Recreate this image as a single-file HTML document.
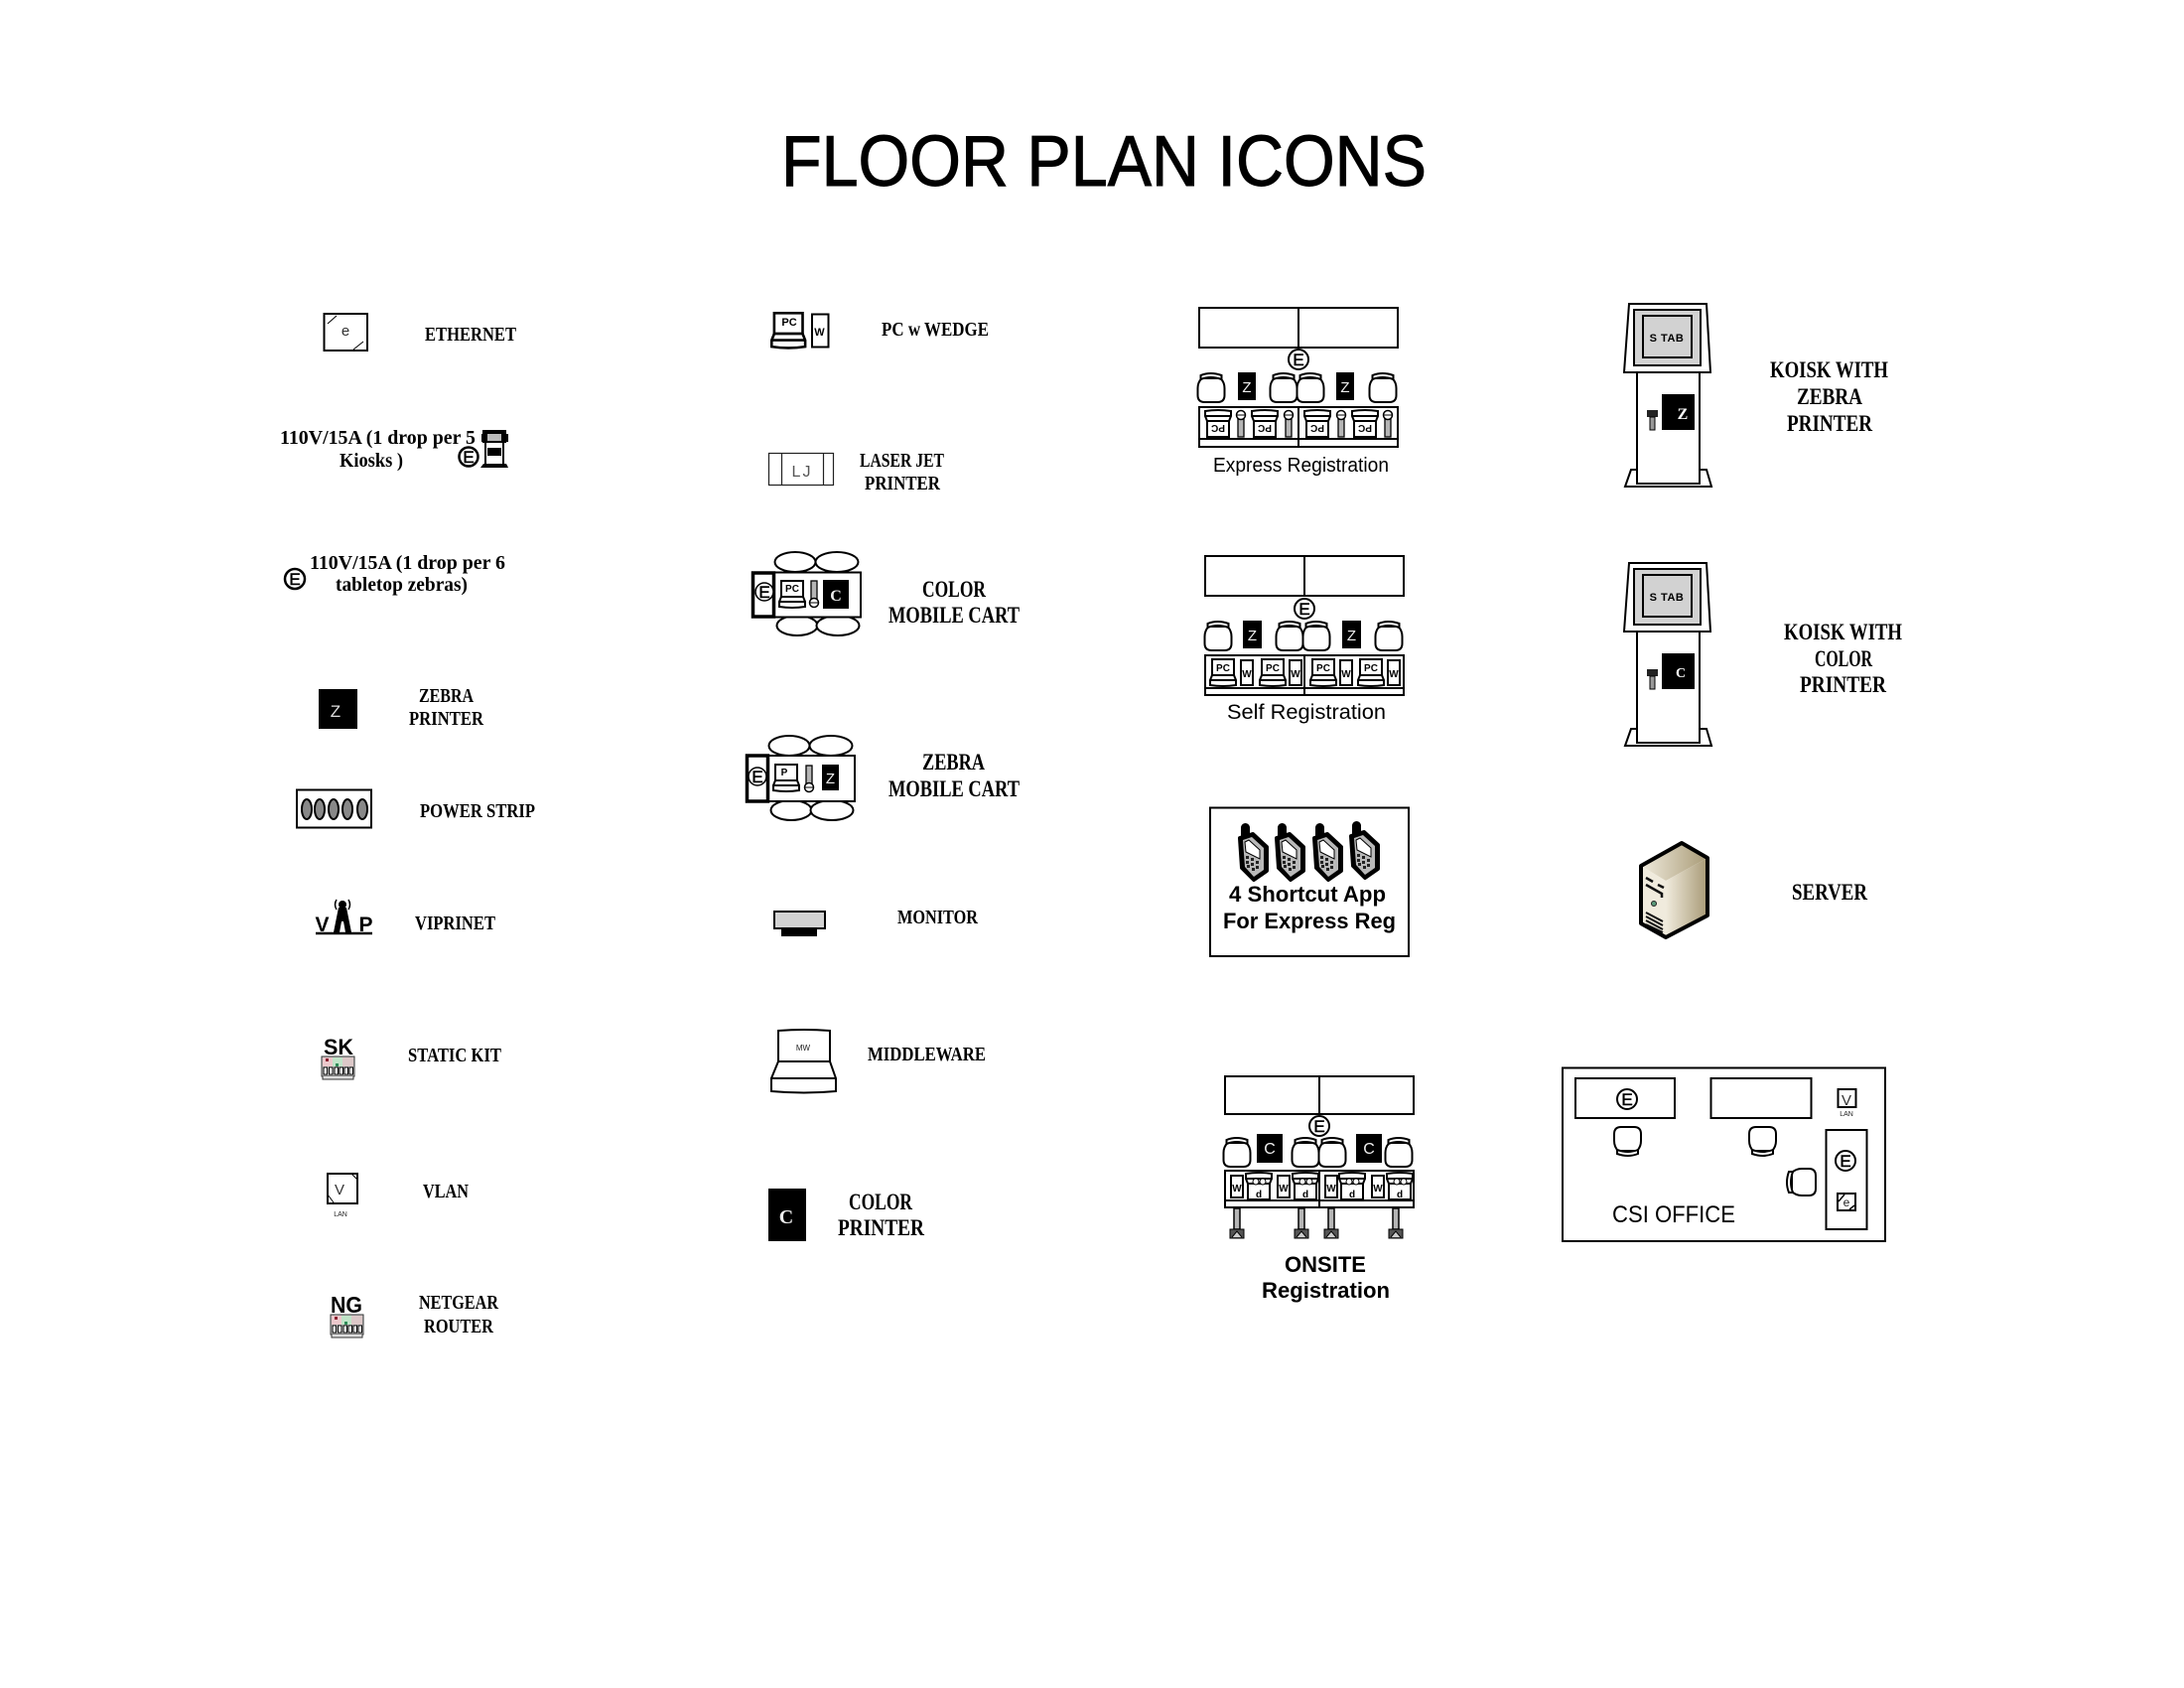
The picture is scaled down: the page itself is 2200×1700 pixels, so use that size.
<!DOCTYPE html>
<html lang="en">
<head>
<meta charset="utf-8">
<title>Floor Plan Icons</title>
<style>
html,body{margin:0;padding:0;background:#fff}
svg{display:block}
.l{font-family:"Liberation Serif",serif;font-weight:bold;font-size:20px;fill:#000}
.x{font-size:23px}
.s{font-family:"Liberation Sans",sans-serif;fill:#000}
.b{font-family:"Liberation Sans",sans-serif;font-weight:bold;fill:#000}
.e{font-family:"Liberation Sans",sans-serif;font-size:17px;text-anchor:middle;fill:#000;stroke:#000;stroke-width:.5px}
.m{font-family:"Liberation Sans",sans-serif;text-anchor:middle}
.c{fill:#fff;stroke:#000;stroke-width:2}
.n{fill:none;stroke:#000;stroke-width:2}
.w{fill:#fff;stroke:#000;stroke-width:2}
</style>
</head>
<body>
<svg xmlns="http://www.w3.org/2000/svg" width="2200" height="1700" viewBox="0 0 2200 1700">
<defs>
<g id="chair">
<path d="M4 6Q0 10 0 16L0 23Q0 30 7 30L20 30Q27 30 27 23L27 16Q27 10 23 6Z" fill="#fff" stroke="#000" stroke-width="2"/>
<path d="M3 7L3 3Q13 -1 24 3L24 7Q13 3 3 7Z" fill="#fff" stroke="#000" stroke-width="2"/>
</g>
<g id="pc">
<rect x="3" y="1" width="22" height="16" fill="#fff" stroke="#000" stroke-width="2"/>
<path d="M3 17L25 17L27 22L27 27Q14 29 1 27L1 22Z" fill="#fff" stroke="#000" stroke-width="2"/>
<path d="M1 22L27 22" stroke="#000" stroke-width="2"/>
</g>
<g id="rod">
<rect x="2" y="9" width="6" height="18" fill="#b5b5b5" stroke="#000" stroke-width="1.300"/>
<circle cx="5" cy="5" r="4.500" fill="#fff" stroke="#000" stroke-width="1.500"/>
<path d="M.5 5H9.500" stroke="#000" stroke-width="1"/>
</g>
<g id="router">
<rect x="1" y="0" width="33" height="20" fill="#c8c8c8" stroke="#333" stroke-width="1"/>
<rect x="2" y="1" width="10" height="9" fill="#ecc8cc"/>
<rect x="12" y="1" width="10" height="9" fill="#c0e4c8"/>
<rect x="22" y="1" width="11" height="9" fill="#dcc8c8"/>
<rect x="5" y="2" width="3" height="3" fill="#8b2030"/>
<rect x="15" y="7" width="3" height="3" fill="#2e8b57"/>
<g fill="#fff" stroke="#000" stroke-width="1">
<rect x="3" y="11" width="3.500" height="7"/><rect x="8.500" y="11" width="3.500" height="7"/><rect x="14" y="11" width="3.500" height="7"/><rect x="19" y="11" width="3.500" height="7"/><rect x="24" y="11" width="3.500" height="7"/><rect x="29" y="11" width="3.500" height="7"/>
</g>
<path d="M2 20L2 23L33 23L33 20" fill="#ddd" stroke="#333" stroke-width="1"/>
</g>
<g id="phone">
<rect x="3" y="0" width="9" height="18" rx="4.500" fill="#000"/>
<path d="M2 15L15 11L29 24L29 48L16 57L4 45Z" fill="#000" stroke="#000" stroke-width="4" stroke-linejoin="round"/>
<path d="M5 17L14 14L26 25L26 47L16 54L7 44Z" fill="#b9b9b9"/>
<path d="M7 19L11 17L22 27L22 36L8 29Z" fill="#fff" stroke="#000" stroke-width="1"/>
<g fill="#222"><rect x="8" y="33" width="3" height="3"/><rect x="13" y="35" width="3" height="3"/><rect x="18" y="38" width="3" height="3"/><rect x="8" y="38" width="3" height="3"/><rect x="13" y="40" width="3" height="3"/><rect x="18" y="43" width="3" height="3"/><rect x="9" y="42" width="3" height="3"/><rect x="14" y="45" width="3" height="3"/></g>
</g>
<g id="leg">
<rect x="-3" y="0" width="6" height="21" fill="#b5b5b5" stroke="#000" stroke-width="1.500"/>
<rect x="-7" y="21" width="14" height="9" fill="#555" stroke="#000" stroke-width="1"/>
<path d="M-5 29L0 23L5 29" fill="#ccc" stroke="#000" stroke-width="1"/>
</g>
<linearGradient id="srv" x1="0" x2="1" y1="0" y2="0"><stop offset="0" stop-color="#f0ebdd"/><stop offset="1" stop-color="#a89a76"/></linearGradient>
</defs>

<text x="787" y="187" class="s" font-size="72" textLength="650" lengthAdjust="spacingAndGlyphs" style="stroke:#000;stroke-width:1px">FLOOR PLAN ICONS</text>

<!-- Column 1 -->
<rect x="326.500" y="316" width="43.500" height="37" fill="#fff" stroke="#000" stroke-width="2"/>
<path d="M330 326L339 318M356 352L366 344" stroke="#000" stroke-width="1"/>
<text x="348" y="338" class="m" font-size="15" fill="#333">e</text>
<text x="428" y="343" class="l" textLength="92" lengthAdjust="spacingAndGlyphs">ETHERNET</text>

<text x="282" y="447" class="l" textLength="197" lengthAdjust="spacingAndGlyphs">110V/15A (1 drop per 5</text>
<text x="342" y="470" class="l" textLength="64" lengthAdjust="spacingAndGlyphs">Kiosks )</text>
<path d="M486 433H510V446H486Z" fill="#000"/><rect x="491" y="437" width="14" height="7" fill="#bbb"/>
<rect x="485" y="437" width="2" height="8" fill="#000"/><rect x="510" y="437" width="2" height="8" fill="#000"/>
<path d="M489 446V469M507 446V469" stroke="#000" stroke-width="2"/>
<rect x="491" y="451" width="14" height="8" fill="#000"/>
<path d="M484 471L487 467H510L512 471Z" fill="#000"/>
<circle cx="472" cy="460" r="9.500" class="c" style="stroke-width:2.500"/><text x="472" y="466" class="e">E</text>

<circle cx="297" cy="583" r="10" class="c" style="stroke-width:2.500"/><text x="297" y="589" class="e">E</text>
<text x="312" y="573" class="l" textLength="197" lengthAdjust="spacingAndGlyphs">110V/15A (1 drop per 6</text>
<text x="338" y="595" class="l" textLength="133" lengthAdjust="spacingAndGlyphs">tabletop zebras)</text>

<rect x="321" y="694" width="39" height="40" fill="#000"/>
<text x="338" y="722" class="m" font-size="17" fill="#ddd">Z</text>
<text x="422" y="707" class="l" textLength="55" lengthAdjust="spacingAndGlyphs">ZEBRA</text>
<text x="412" y="730" class="l" textLength="75" lengthAdjust="spacingAndGlyphs">PRINTER</text>

<rect x="299" y="795.500" width="75" height="38" fill="#fff" stroke="#000" stroke-width="2"/>
<g fill="#888" stroke="#000" stroke-width="2"><ellipse cx="309" cy="815" rx="5" ry="10"/><ellipse cx="322" cy="815" rx="5" ry="10"/><ellipse cx="336" cy="815" rx="5" ry="10"/><ellipse cx="350" cy="815" rx="5" ry="10"/><ellipse cx="365" cy="815" rx="5" ry="10"/></g>
<text x="423" y="823" class="l" textLength="116" lengthAdjust="spacingAndGlyphs">POWER STRIP</text>

<path d="M318 940H375" stroke="#000" stroke-width="2.500"/>
<text x="324.500" y="938" class="b m" font-size="21">V</text>
<text x="368.500" y="938" class="b m" font-size="21">P</text>
<path d="M336 939L341 914H349L354 939H348L346 928H344L342 939Z" fill="#000"/>
<circle cx="345" cy="911" r="4" fill="#000"/>
<path d="M339 906Q336 911 339 916M351 906Q354 911 351 916" fill="none" stroke="#000" stroke-width="1.500"/>
<text x="418" y="936" class="l" textLength="81" lengthAdjust="spacingAndGlyphs">VIPRINET</text>

<text x="326" y="1062" class="b" font-size="22" textLength="30" lengthAdjust="spacingAndGlyphs">SK</text>
<use href="#router" x="323" y="1064"/>
<text x="411" y="1069" class="l" textLength="94" lengthAdjust="spacingAndGlyphs">STATIC KIT</text>

<rect x="330" y="1182" width="30" height="30" fill="#fff" stroke="#000" stroke-width="2"/>
<path d="M330 1203L336 1211M354 1182L360 1188" stroke="#000" stroke-width="1"/>
<text x="342" y="1203" class="m" font-size="15" fill="#333">V</text>
<text x="343" y="1225" class="m" font-size="7" fill="#222">LAN</text>
<text x="426" y="1206" class="l" textLength="46" lengthAdjust="spacingAndGlyphs">VLAN</text>

<text x="333" y="1322" class="b" font-size="23" textLength="32" lengthAdjust="spacingAndGlyphs">NG</text>
<use href="#router" x="332" y="1324"/>
<text x="422" y="1318" class="l" textLength="80" lengthAdjust="spacingAndGlyphs">NETGEAR</text>
<text x="427" y="1342" class="l" textLength="70" lengthAdjust="spacingAndGlyphs">ROUTER</text>

<!-- Column 2 -->
<g transform="translate(776,314) scale(1.300,1.300)"><use href="#pc"/></g>
<text x="795" y="328" class="b m" font-size="11">PC</text>
<rect x="818" y="316.500" width="16.500" height="33" fill="#fff" stroke="#000" stroke-width="2"/>
<text x="825.500" y="338" class="b m" font-size="11">W</text>
<text x="888" y="338" class="l" textLength="108" lengthAdjust="spacingAndGlyphs">PC w WEDGE</text>

<rect x="774.500" y="456.500" width="65" height="32" fill="#fff" stroke="#222" stroke-width="1.200"/>
<path d="M787.500 456V489M829.500 456V489" stroke="#222" stroke-width="1.200"/>
<text x="808" y="480" class="m" font-size="16" fill="#555" letter-spacing="2">LJ</text>
<text x="866" y="470" class="l" textLength="85" lengthAdjust="spacingAndGlyphs">LASER JET</text>
<text x="871" y="493" class="l" textLength="76" lengthAdjust="spacingAndGlyphs">PRINTER</text>

<!-- Color cart -->
<ellipse cx="801" cy="566" rx="20.500" ry="10" class="w"/><ellipse cx="843" cy="566" rx="21.500" ry="10" class="w"/>
<ellipse cx="803" cy="630" rx="20.500" ry="10" class="w"/><ellipse cx="844" cy="630" rx="21.500" ry="10" class="w"/>
<rect x="758" y="576.500" width="109" height="45" class="w"/>
<rect x="758.500" y="577" width="21" height="44" fill="#fff" stroke="#000" stroke-width="3.500"/>
<circle cx="770" cy="596" r="9" class="c" style="stroke-width:1.500"/><text x="770" y="602" class="e">E</text>
<use href="#pc" x="784" y="584"/>
<text x="798" y="596" class="b m" font-size="10">PC</text>
<use href="#rod" x="815" y="584" transform="rotate(180 820 598)"/>
<rect x="829" y="584" width="26" height="29" fill="#000"/>
<text x="842" y="605" class="m" font-size="16" font-weight="bold" style="font-family:'Liberation Serif',serif" fill="#eee">C</text>
<text x="929" y="601" class="l x" textLength="64" lengthAdjust="spacingAndGlyphs">COLOR</text>
<text x="895" y="627" class="l x" textLength="132" lengthAdjust="spacingAndGlyphs">MOBILE CART</text>

<!-- Zebra cart -->
<ellipse cx="795" cy="751" rx="20.500" ry="10" class="w"/><ellipse cx="837" cy="751" rx="21.500" ry="10" class="w"/>
<ellipse cx="797" cy="816" rx="20.500" ry="10" class="w"/><ellipse cx="838" cy="816" rx="21.500" ry="10" class="w"/>
<rect x="752" y="761" width="109" height="46" class="w"/>
<rect x="752.500" y="761" width="21" height="46" fill="#fff" stroke="#000" stroke-width="3.500"/>
<circle cx="763" cy="782" r="9" class="c" style="stroke-width:1.500"/><text x="763" y="788" class="e">E</text>
<use href="#pc" x="778" y="769"/>
<text x="790" y="781" class="b m" font-size="10">P</text>
<use href="#rod" x="810" y="770" transform="rotate(180 815 784)"/>
<rect x="828" y="770" width="17" height="26" fill="#000"/>
<text x="836.500" y="789" class="m" font-size="15" fill="#eee">Z</text>
<text x="929" y="775" class="l x" textLength="63" lengthAdjust="spacingAndGlyphs">ZEBRA</text>
<text x="895" y="802" class="l x" textLength="132" lengthAdjust="spacingAndGlyphs">MOBILE CART</text>

<rect x="780" y="918" width="51" height="17" fill="#d2d2d2" stroke="#000" stroke-width="2"/>
<rect x="787" y="935" width="36" height="8" fill="#000"/>
<text x="904" y="930" class="l" textLength="81" lengthAdjust="spacingAndGlyphs">MONITOR</text>

<path d="M784 1038Q810 1036 836 1038V1069H784Z" fill="#fff" stroke="#000" stroke-width="2"/>
<path d="M784 1069H836L842 1086V1099Q810 1102 777 1099V1086Z" fill="#fff" stroke="#000" stroke-width="2"/>
<path d="M777 1086H842" stroke="#000" stroke-width="2"/>
<text x="809" y="1058" class="m" font-size="8" fill="#222">MW</text>
<text x="874" y="1068" class="l" textLength="119" lengthAdjust="spacingAndGlyphs">MIDDLEWARE</text>

<rect x="774" y="1197" width="38" height="53" fill="#000"/>
<text x="792" y="1232" class="m" font-size="20" font-weight="bold" style="font-family:'Liberation Serif',serif" fill="#eee">C</text>
<text x="855" y="1218" class="l x" textLength="64" lengthAdjust="spacingAndGlyphs">COLOR</text>
<text x="844" y="1244" class="l x" textLength="87" lengthAdjust="spacingAndGlyphs">PRINTER</text>

<!-- Express Registration -->
<rect x="1208" y="310" width="200" height="40" class="w"/>
<path d="M1308 310V350" class="n"/>
<circle cx="1308" cy="362" r="10" class="c"/><text x="1308" y="368" class="e">E</text>
<use href="#chair" x="1206.500" y="375"/><use href="#chair" x="1279.500" y="375"/><use href="#chair" x="1306.500" y="375"/><use href="#chair" x="1379.500" y="375"/>
<rect x="1247" y="375" width="18" height="28" fill="#000"/><text x="1256" y="395" class="m" font-size="15" fill="#eee">Z</text>
<rect x="1346" y="375" width="18" height="28" fill="#000"/><text x="1355" y="395" class="m" font-size="15" fill="#eee">Z</text>
<rect x="1208" y="410" width="200" height="40" class="w"/>
<path d="M1208 442H1408M1308 410V450" class="n"/>
<g transform="translate(1213,413) rotate(180 14 14)"><use href="#pc"/><text x="14" y="13" class="b m" font-size="10">PC</text></g>
<g transform="translate(1260,413) rotate(180 14 14)"><use href="#pc"/><text x="14" y="13" class="b m" font-size="10">PC</text></g>
<g transform="translate(1313,413) rotate(180 14 14)"><use href="#pc"/><text x="14" y="13" class="b m" font-size="10">PC</text></g>
<g transform="translate(1361,413) rotate(180 14 14)"><use href="#pc"/><text x="14" y="13" class="b m" font-size="10">PC</text></g>
<use href="#rod" x="1245" y="413"/><use href="#rod" x="1293" y="413"/><use href="#rod" x="1346" y="413"/><use href="#rod" x="1393" y="413"/>
<text x="1222" y="475" class="s" font-size="20" textLength="177" lengthAdjust="spacingAndGlyphs">Express Registration</text>

<!-- Self Registration -->
<rect x="1214" y="560" width="200" height="40" class="w"/>
<path d="M1314 560V600" class="n"/>
<circle cx="1314" cy="613" r="10" class="c"/><text x="1314" y="619" class="e">E</text>
<use href="#chair" x="1213.500" y="625"/><use href="#chair" x="1285.500" y="625"/><use href="#chair" x="1312.500" y="625"/><use href="#chair" x="1385.500" y="625"/>
<rect x="1252" y="625" width="19" height="28" fill="#000"/><text x="1261.500" y="645" class="m" font-size="15" fill="#eee">Z</text>
<rect x="1352" y="625" width="19" height="28" fill="#000"/><text x="1361.500" y="645" class="m" font-size="15" fill="#eee">Z</text>
<rect x="1214" y="660" width="200" height="40" class="w"/>
<path d="M1214 693H1414M1314 660V700" class="n"/>
<use href="#pc" x="1218" y="663"/><use href="#pc" x="1268" y="663"/><use href="#pc" x="1319" y="663"/><use href="#pc" x="1367" y="663"/>
<text x="1232" y="676" class="b m" font-size="10">PC</text><text x="1282" y="676" class="b m" font-size="10">PC</text><text x="1333" y="676" class="b m" font-size="10">PC</text><text x="1381" y="676" class="b m" font-size="10">PC</text>
<g fill="#fff" stroke="#000" stroke-width="2"><rect x="1250" y="665" width="12" height="25"/><rect x="1299" y="665" width="12" height="25"/><rect x="1350" y="665" width="12" height="25"/><rect x="1398" y="665" width="12" height="25"/></g>
<text x="1256" y="682" class="b m" font-size="10">W</text><text x="1305" y="682" class="b m" font-size="10">W</text><text x="1356" y="682" class="b m" font-size="10">W</text><text x="1404" y="682" class="b m" font-size="10">W</text>
<text x="1236" y="724" class="s" font-size="21" textLength="160" lengthAdjust="spacingAndGlyphs">Self Registration</text>

<!-- Shortcut box -->
<rect x="1219" y="813.500" width="200" height="149.500" class="w"/>
<use href="#phone" x="1247" y="829"/><use href="#phone" x="1284" y="829"/><use href="#phone" x="1322" y="829"/><use href="#phone" x="1359" y="827"/>
<text x="1238" y="908" class="b" font-size="22" textLength="158" lengthAdjust="spacingAndGlyphs">4 Shortcut App</text>
<text x="1232" y="935" class="b" font-size="22" textLength="174" lengthAdjust="spacingAndGlyphs">For Express Reg</text>

<!-- Onsite -->
<rect x="1234" y="1084" width="190" height="38" class="w"/>
<path d="M1329 1084V1122" class="n"/>
<circle cx="1329" cy="1134" r="10" class="c"/><text x="1329" y="1140" class="e">E</text>
<use href="#chair" x="1232.500" y="1145"/><use href="#chair" x="1301.500" y="1145"/><use href="#chair" x="1328.500" y="1145"/><use href="#chair" x="1395.500" y="1145"/>
<rect x="1266" y="1142" width="26" height="29" fill="#000"/><text x="1279" y="1162" class="m" font-size="16" fill="#eee">C</text>
<rect x="1366" y="1142" width="26" height="29" fill="#000"/><text x="1379" y="1162" class="m" font-size="16" fill="#eee">C</text>
<rect x="1234" y="1179" width="190" height="37" class="w"/>
<path d="M1234 1209H1424M1329 1179V1216" class="n"/>
<g fill="#fff" stroke="#000" stroke-width="2"><rect x="1240" y="1184" width="12" height="22"/><rect x="1287" y="1184" width="12" height="22"/><rect x="1335" y="1184" width="12" height="22"/><rect x="1382" y="1184" width="12" height="22"/></g>
<text x="1246" y="1200" class="b m" font-size="10">W</text><text x="1293" y="1200" class="b m" font-size="10">W</text><text x="1341" y="1200" class="b m" font-size="10">W</text><text x="1388" y="1200" class="b m" font-size="10">W</text>
<g transform="translate(1254,1181) rotate(180 14 14)"><use href="#pc"/></g>
<g transform="translate(1301,1181) rotate(180 14 14)"><use href="#pc"/></g>
<g transform="translate(1348,1181) rotate(180 14 14)"><use href="#pc"/></g>
<g transform="translate(1396,1181) rotate(180 14 14)"><use href="#pc"/></g>
<g fill="#fff" stroke="#000" stroke-width="1"><circle cx="1265" cy="1190" r="3"/><circle cx="1272" cy="1190" r="3"/><circle cx="1312" cy="1190" r="3"/><circle cx="1319" cy="1190" r="3"/><circle cx="1359" cy="1190" r="3"/><circle cx="1366" cy="1190" r="3"/><circle cx="1407" cy="1190" r="3"/><circle cx="1414" cy="1190" r="3"/></g>
<text x="1268" y="1206" class="b m" font-size="10">d</text><text x="1315" y="1206" class="b m" font-size="10">d</text><text x="1362" y="1206" class="b m" font-size="10">d</text><text x="1410" y="1206" class="b m" font-size="10">d</text>
<use href="#leg" x="1246" y="1217"/><use href="#leg" x="1311" y="1217"/><use href="#leg" x="1341" y="1217"/><use href="#leg" x="1406" y="1217"/>
<text x="1294" y="1281" class="b" font-size="22" textLength="82" lengthAdjust="spacingAndGlyphs">ONSITE</text>
<text x="1271" y="1307" class="b" font-size="22" textLength="129" lengthAdjust="spacingAndGlyphs">Registration</text>

<!-- Kiosk 1 -->
<path d="M1643 473L1637 490H1724L1719 473Z" class="w"/>
<rect x="1649" y="375" width="63" height="112" class="w"/>
<path d="M1641 306H1719L1723 375H1636Z" class="w"/>
<rect x="1646" y="312" width="67" height="56" fill="#d2d2d2" stroke="#000" stroke-width="2"/>
<rect x="1655" y="318" width="49" height="42" fill="#d2d2d2" stroke="#000" stroke-width="2"/>
<text x="1679" y="344" class="b m" font-size="11" letter-spacing=".500">S TAB</text>
<rect x="1674" y="397" width="33" height="36" fill="#000"/>
<text x="1695" y="422" class="m" font-size="16" font-weight="bold" style="font-family:'Liberation Serif',serif" fill="#fff">Z</text>
<rect x="1659" y="413" width="11" height="7" fill="#222"/><rect x="1662" y="420" width="5" height="13" fill="#999" stroke="#000" stroke-width="1"/>
<text x="1783" y="380" class="l x" textLength="119" lengthAdjust="spacingAndGlyphs">KOISK WITH</text>
<text x="1810" y="407" class="l x" textLength="66" lengthAdjust="spacingAndGlyphs">ZEBRA</text>
<text x="1800" y="434" class="l x" textLength="86" lengthAdjust="spacingAndGlyphs">PRINTER</text>

<!-- Kiosk 2 -->
<g transform="translate(0,261)">
<path d="M1643 473L1637 490H1724L1719 473Z" class="w"/>
<rect x="1649" y="375" width="63" height="112" class="w"/>
<path d="M1641 306H1719L1723 375H1636Z" class="w"/>
<rect x="1646" y="312" width="67" height="56" fill="#d2d2d2" stroke="#000" stroke-width="2"/>
<rect x="1655" y="318" width="49" height="42" fill="#d2d2d2" stroke="#000" stroke-width="2"/>
<text x="1679" y="344" class="b m" font-size="11" letter-spacing=".500">S TAB</text>
<rect x="1674" y="397" width="33" height="36" fill="#000"/>
<text x="1693" y="421" class="m" font-size="14" font-weight="bold" style="font-family:'Liberation Serif',serif" fill="#fff">C</text>
<rect x="1659" y="413" width="11" height="7" fill="#222"/><rect x="1662" y="420" width="5" height="13" fill="#999" stroke="#000" stroke-width="1"/>
</g>
<text x="1797" y="644" class="l x" textLength="119" lengthAdjust="spacingAndGlyphs">KOISK WITH</text>
<text x="1828" y="671" class="l x" textLength="58" lengthAdjust="spacingAndGlyphs">COLOR</text>
<text x="1813" y="697" class="l x" textLength="87" lengthAdjust="spacingAndGlyphs">PRINTER</text>

<!-- Server -->
<path d="M1653 872L1694 849L1720 864L1678 887Z" fill="url(#srv)"/>
<path d="M1653 872L1678 887V944L1653 930Z" fill="#f0ebdd"/>
<path d="M1678 887L1720 864V922L1678 944Z" fill="url(#srv)"/>
<path d="M1653 872L1694 849L1720 864V922L1678 944L1653 930Z" fill="none" stroke="#000" stroke-width="4" stroke-linejoin="round"/>
<path d="M1658 884L1665 888M1670 891L1676 894M1658 891L1674 900V904" fill="none" stroke="#111" stroke-width="2.500"/>
<circle cx="1666" cy="910" r="2.500" fill="#5a9a7a" stroke="#222" stroke-width="1"/>
<path d="M1658 919L1675 928M1658 923L1675 932M1658 927L1675 936M1658 931L1675 939" stroke="#111" stroke-width="2"/>
<text x="1805" y="906" class="l x" textLength="76" lengthAdjust="spacingAndGlyphs">SERVER</text>

<!-- CSI Office -->
<rect x="1574" y="1075.500" width="325" height="174.500" class="w"/>
<rect x="1587" y="1086" width="100" height="40" class="w"/>
<rect x="1723.500" y="1086" width="101" height="40" class="w"/>
<circle cx="1639" cy="1107" r="10" class="c"/><text x="1639" y="1113" class="e">E</text>
<rect x="1851.500" y="1097" width="18" height="18" class="w"/>
<text x="1860" y="1113" class="m" font-size="15" fill="#333">V</text>
<text x="1860" y="1124" class="m" font-size="7" fill="#222">LAN</text>
<rect x="1839.500" y="1138" width="41" height="100" class="w"/>
<circle cx="1859" cy="1169" r="10" class="c"/><text x="1859" y="1175" class="e">E</text>
<rect x="1851" y="1202" width="18" height="17" class="w"/>
<text x="1860" y="1215" class="m" font-size="12" fill="#222">e</text>
<path d="M1852 1210L1858 1203M1863 1218L1868 1214" stroke="#000" stroke-width="1.500"/>
<use href="#chair" transform="translate(1653,1165) rotate(180)"/>
<use href="#chair" transform="translate(1789,1165) rotate(180)"/>
<use href="#chair" transform="translate(1799,1204) rotate(-90)"/>
<text x="1624" y="1231" class="s" font-size="24" textLength="124" lengthAdjust="spacingAndGlyphs">CSI OFFICE</text>
</svg>
</body>
</html>
